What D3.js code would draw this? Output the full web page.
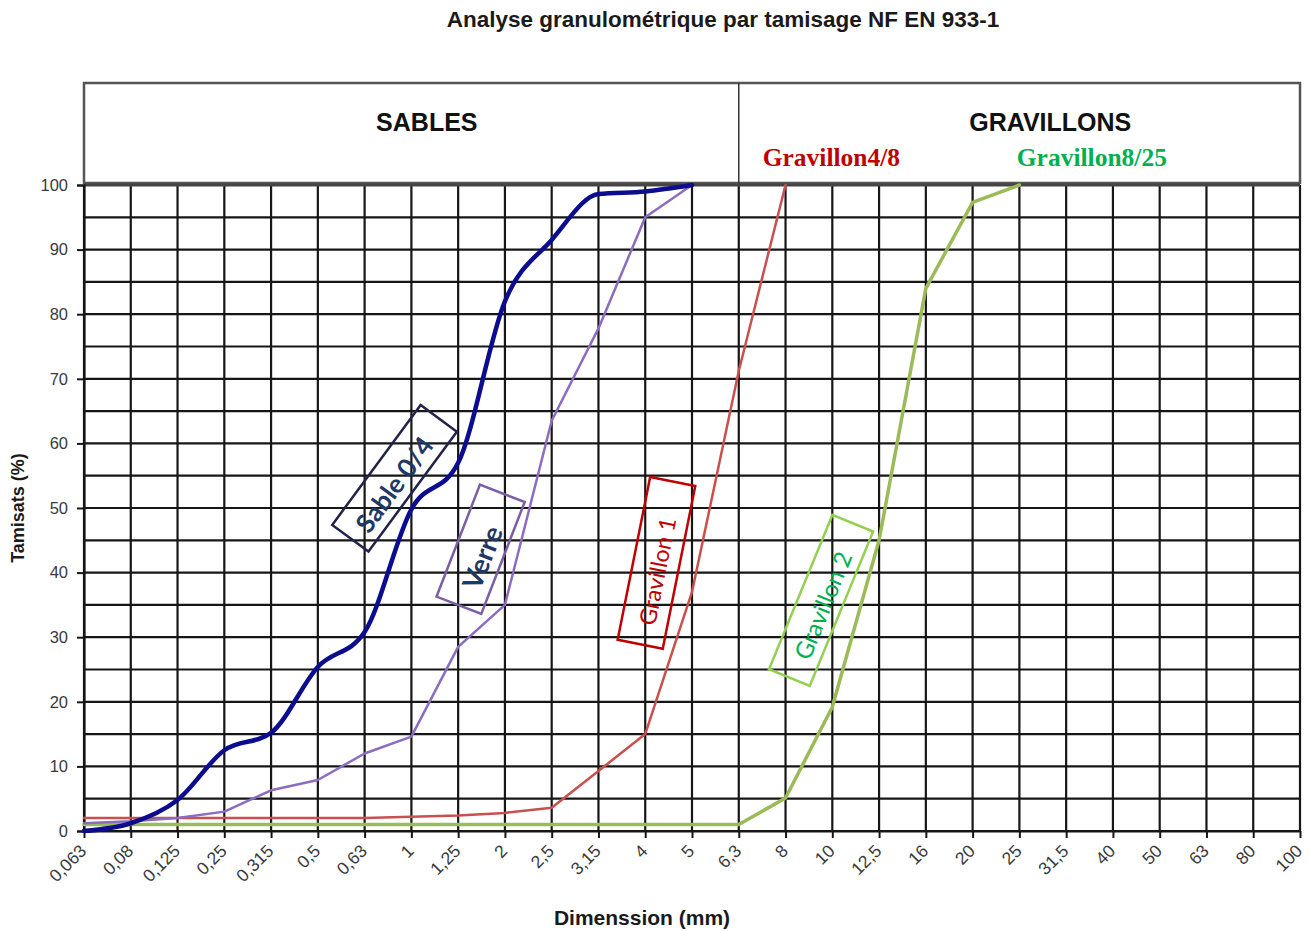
<!DOCTYPE html>
<html>
<head>
<meta charset="utf-8">
<script src="https://cdn.jsdelivr.net/npm/d3@7"></script>
<style>
  body { margin: 0; background: #fff; }
  svg { display: block; }
</style>
</head>
<body>
<svg id="chart" width="1310" height="931"></svg>
<script>
// Sieve openings (mm), as printed on the axis
const sieves = ["0,063","0,08","0,125","0,25","0,315","0,5","0,63","1","1,25","2","2,5","3,15","4","5","6,3","8","10","12,5","16","20","25","31,5","40","50","63","80","100"];

// Cumulative passing (%) per sieve, starting from 0,063
const sable04    = [0, 1.2, 4.8, 12.5, 15.2, 25.4, 30.8, 49.8, 57, 82, 91.5, 98.6, 99, 100];
const verre      = [1.2, 1.5, 2, 3, 6.3, 7.9, 12, 14.6, 28.5, 35, 63.5, 77.8, 95, 100];
const gravillon1 = [2, 2, 2, 2, 2, 2, 2, 2.2, 2.4, 2.8, 3.6, 9.3, 15, 37, 71.2, 100];
const gravillon2 = [1, 1, 1, 1, 1, 1, 1, 1, 1, 1, 1, 1, 1, 1, 1, 5.1, 19.2, 45, 84, 97.3, 100];

const yTicks = [0, 10, 20, 30, 40, 50, 60, 70, 80, 90, 100];

const svg = d3.select("#chart");

const plotLeft = 84, plotRight = 1300, plotTop = 185, plotBottom = 831, headTop = 83;

const x  = d3.scalePoint().domain(sieves).range([plotLeft, plotRight]);
const xi = d3.scaleLinear().domain([0, sieves.length - 1]).range([plotLeft, plotRight]);
const y  = d3.scaleLinear().domain([0, 100]).range([plotBottom, plotTop]);

// Title
svg.append("text")
  .attr("x", 723).attr("y", 27)
  .attr("text-anchor", "middle")
  .attr("font-family", "Liberation Sans, Arial, sans-serif")
  .attr("font-weight", "bold")
  .attr("font-size", 22.5)
  .attr("fill", "#1a1a1a")
  .text("Analyse granulométrique par tamisage NF EN 933-1");

// Header band: SABLES | GRAVILLONS
const head = svg.append("g");
head.append("rect")
  .attr("x", plotLeft).attr("y", headTop)
  .attr("width", plotRight - plotLeft).attr("height", plotTop - 2 - headTop)
  .attr("fill", "none").attr("stroke", "#555").attr("stroke-width", 2.5);
head.append("line")
  .attr("x1", x("6,3")).attr("x2", x("6,3"))
  .attr("y1", headTop).attr("y2", plotTop)
  .attr("stroke", "#333").attr("stroke-width", 1.5);
head.append("text")
  .attr("x", xi(7.33)).attr("y", 131)
  .attr("text-anchor", "middle")
  .attr("font-family", "Liberation Sans, Arial, sans-serif")
  .attr("font-weight", "bold").attr("font-size", 25).attr("fill", "#111")
  .text("SABLES");
head.append("text")
  .attr("x", xi(20.66)).attr("y", 131)
  .attr("text-anchor", "middle")
  .attr("font-family", "Liberation Sans, Arial, sans-serif")
  .attr("font-weight", "bold").attr("font-size", 25).attr("fill", "#111")
  .text("GRAVILLONS");
head.append("text")
  .attr("x", xi(15.98)).attr("y", 166)
  .attr("text-anchor", "middle")
  .attr("font-family", "Liberation Serif, Times New Roman, serif")
  .attr("font-weight", "bold").attr("font-size", 25.5).attr("fill", "#c00000")
  .text("Gravillon4/8");
head.append("text")
  .attr("x", xi(21.55)).attr("y", 166)
  .attr("text-anchor", "middle")
  .attr("font-family", "Liberation Serif, Times New Roman, serif")
  .attr("font-weight", "bold").attr("font-size", 25.5).attr("fill", "#00b050")
  .text("Gravillon8/25");

// Grid
const grid = svg.append("g").attr("stroke", "#161616").attr("stroke-width", 2.2);
grid.selectAll("line.h")
  .data(d3.range(0, 101, 5))
  .join("line")
  .attr("class", "h")
  .attr("x1", plotLeft).attr("x2", plotRight)
  .attr("y1", d => y(d)).attr("y2", d => y(d));
grid.selectAll("line.v")
  .data(sieves)
  .join("line")
  .attr("class", "v")
  .attr("x1", d => x(d)).attr("x2", d => x(d))
  .attr("y1", plotTop).attr("y2", plotBottom);
svg.append("line")
  .attr("x1", plotLeft).attr("x2", plotRight).attr("y1", plotTop).attr("y2", plotTop)
  .attr("stroke", "#444").attr("stroke-width", 3);

// Axes
const yAxis = svg.append("g")
  .attr("transform", `translate(${plotLeft},0)`)
  .call(d3.axisLeft(y).tickValues(yTicks).tickSize(7).tickPadding(9));
const xAxis = svg.append("g")
  .attr("transform", `translate(0,${plotBottom})`)
  .call(d3.axisBottom(x).tickSize(7).tickSizeOuter(0));
[yAxis, xAxis].forEach(a => {
  a.select(".domain").attr("stroke", "#161616").attr("stroke-width", 2.2);
  a.selectAll(".tick line").attr("stroke", "#161616").attr("stroke-width", 2);
  a.selectAll("text")
    .attr("font-family", "Liberation Sans, Arial, sans-serif")
    .attr("fill", "#3a3a3a");
});
yAxis.selectAll("text").attr("font-size", 16.5);
xAxis.selectAll("text")
  .attr("font-size", 17.5)
  .attr("text-anchor", "end")
  .attr("dy", null).attr("y", null)
  .attr("transform", "translate(3,21) rotate(-45)");

// Axis titles
svg.append("text")
  .attr("transform", "translate(24,508) rotate(-90)")
  .attr("text-anchor", "middle")
  .attr("font-family", "Liberation Sans, Arial, sans-serif")
  .attr("font-weight", "bold").attr("font-size", 18).attr("fill", "#1a1a1a")
  .text("Tamisats (%)");
svg.append("text")
  .attr("x", 642).attr("y", 925)
  .attr("text-anchor", "middle")
  .attr("font-family", "Liberation Sans, Arial, sans-serif")
  .attr("font-weight", "bold").attr("font-size", 21).attr("fill", "#1a1a1a")
  .text("Dimenssion (mm)");

// Grading curves
const series = [
  { values: gravillon2, color: "#9bbb59", width: 3.5, curve: d3.curveLinear },
  { values: gravillon1, color: "#c9504d", width: 2.5, curve: d3.curveLinear },
  { values: verre,      color: "#8b6cbf", width: 2.5, curve: d3.curveLinear },
  { values: sable04,    color: "#0c0c8e", width: 4.5, curve: d3.curveMonotoneX }
];
series.forEach(s => {
  const line = d3.line()
    .x((d, i) => x(sieves[i]))
    .y(d => y(d))
    .curve(s.curve);
  svg.append("path")
    .datum(s.values)
    .attr("d", line)
    .attr("fill", "none")
    .attr("stroke", s.color)
    .attr("stroke-width", s.width)
    .attr("stroke-linejoin", "round")
    .attr("stroke-linecap", "round");
});

// Tilted callout boxes naming each curve (text nudged along / across the box)
const callouts = [
  { text: "Sable 0/4",   at: [6.64, 54.6],  angle: -53.6, w: 149, h: 45, box: "#22224a", ink: "#1f3864", weight: "bold",   size: 26, nudge: [-5, 3] },
  { text: "Verre",       at: [8.48, 43.6],  angle: -68.8, w: 120, h: 48, box: "#7a5fa6", ink: "#1f3864", weight: "bold",   size: 27, nudge: [-7, 4] },
  { text: "Gravillon 1", at: [12.24, 41.5], angle: -78.7, w: 166, h: 46, box: "#c00000", ink: "#c00000", weight: "normal", size: 23, nudge: [-8, 2] },
  { text: "Gravillon 2", at: [15.76, 35.7], angle: -67.7, w: 167, h: 44, box: "#92d050", ink: "#00b050", weight: "normal", size: 24, nudge: [-4, 3] }
];
callouts.forEach(c => {
  const g = svg.append("g")
    .attr("transform", `translate(${xi(c.at[0])},${y(c.at[1])}) rotate(${c.angle})`);
  g.append("rect")
    .attr("x", -c.w / 2).attr("y", -c.h / 2)
    .attr("width", c.w).attr("height", c.h)
    .attr("fill", "none").attr("stroke", c.box).attr("stroke-width", 2.5);
  g.append("text")
    .attr("x", c.nudge[0]).attr("y", c.nudge[1])
    .attr("text-anchor", "middle")
    .attr("dominant-baseline", "central")
    .attr("font-family", "Lato, Open Sans, sans-serif")
    .attr("font-weight", c.weight)
    .attr("font-size", c.size)
    .attr("fill", c.ink)
    .text(c.text);
});
</script>
</body>
</html>
